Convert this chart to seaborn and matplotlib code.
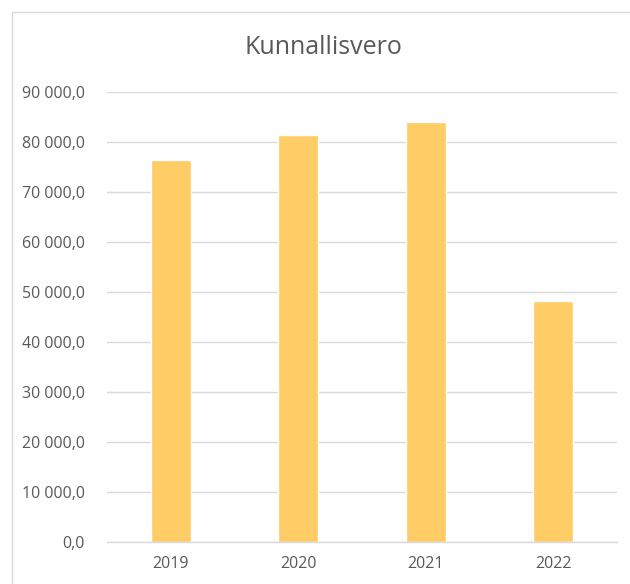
import matplotlib
matplotlib.use("Agg")
import matplotlib.pyplot as plt
import seaborn as sns
import pandas as pd
from matplotlib.patches import Rectangle
from matplotlib.ticker import FuncFormatter, MultipleLocator

# Data
vuodet = ["2019", "2020", "2021", "2022"]
vero = [76400, 81400, 84000, 48200]
otsikko = "Kunnallisvero"

df = pd.DataFrame({"vuosi": vuodet, "vero": vero})

sns.set_theme(style="white")
plt.rcParams["font.family"] = ["Open Sans", "DejaVu Sans"]

W, H = 630, 584
fig = plt.figure(figsize=(W / 100, H / 100), dpi=100)
ax = fig.add_axes([107 / W, 1 - 541.7 / H, (617 - 107) / W, (541.7 - 92) / H])

sns.barplot(data=df, x="vuosi", y="vero", color="#FFCC66", width=0.31,
            saturation=1, ax=ax)

ax.set_ylim(0, 90000)
ax.yaxis.set_major_locator(MultipleLocator(10000))
ax.yaxis.set_major_formatter(FuncFormatter(
    lambda v, p: f"{v:,.1f}".replace(",", " ").replace(".", ",")))
ax.grid(axis="y", color="#D9D9D9", linewidth=1)
ax.set_axisbelow(True)
for s in ["top", "right", "left"]:
    ax.spines[s].set_visible(False)
ax.spines["bottom"].set_color("#D9D9D9")
ax.spines["bottom"].set_linewidth(1)
ax.tick_params(axis="both", length=0, labelsize=11.5, labelcolor="#595959")
ax.tick_params(axis="y", pad=16)
ax.tick_params(axis="x", pad=10)
ax.set_xlabel("")
ax.set_ylabel("")

fig.text(323 / W, 1 - 48 / H, otsikko, ha="center", va="center",
         fontsize=18, color="#595959")

# chart border
fig.patches.append(Rectangle((12 / W, -0.01), 1.0, 1 - 12 / H + 0.01,
                             transform=fig.transFigure, fill=False,
                             edgecolor="#D9D9D9", linewidth=1))

fig.savefig("out.png", dpi=100, facecolor="white")
